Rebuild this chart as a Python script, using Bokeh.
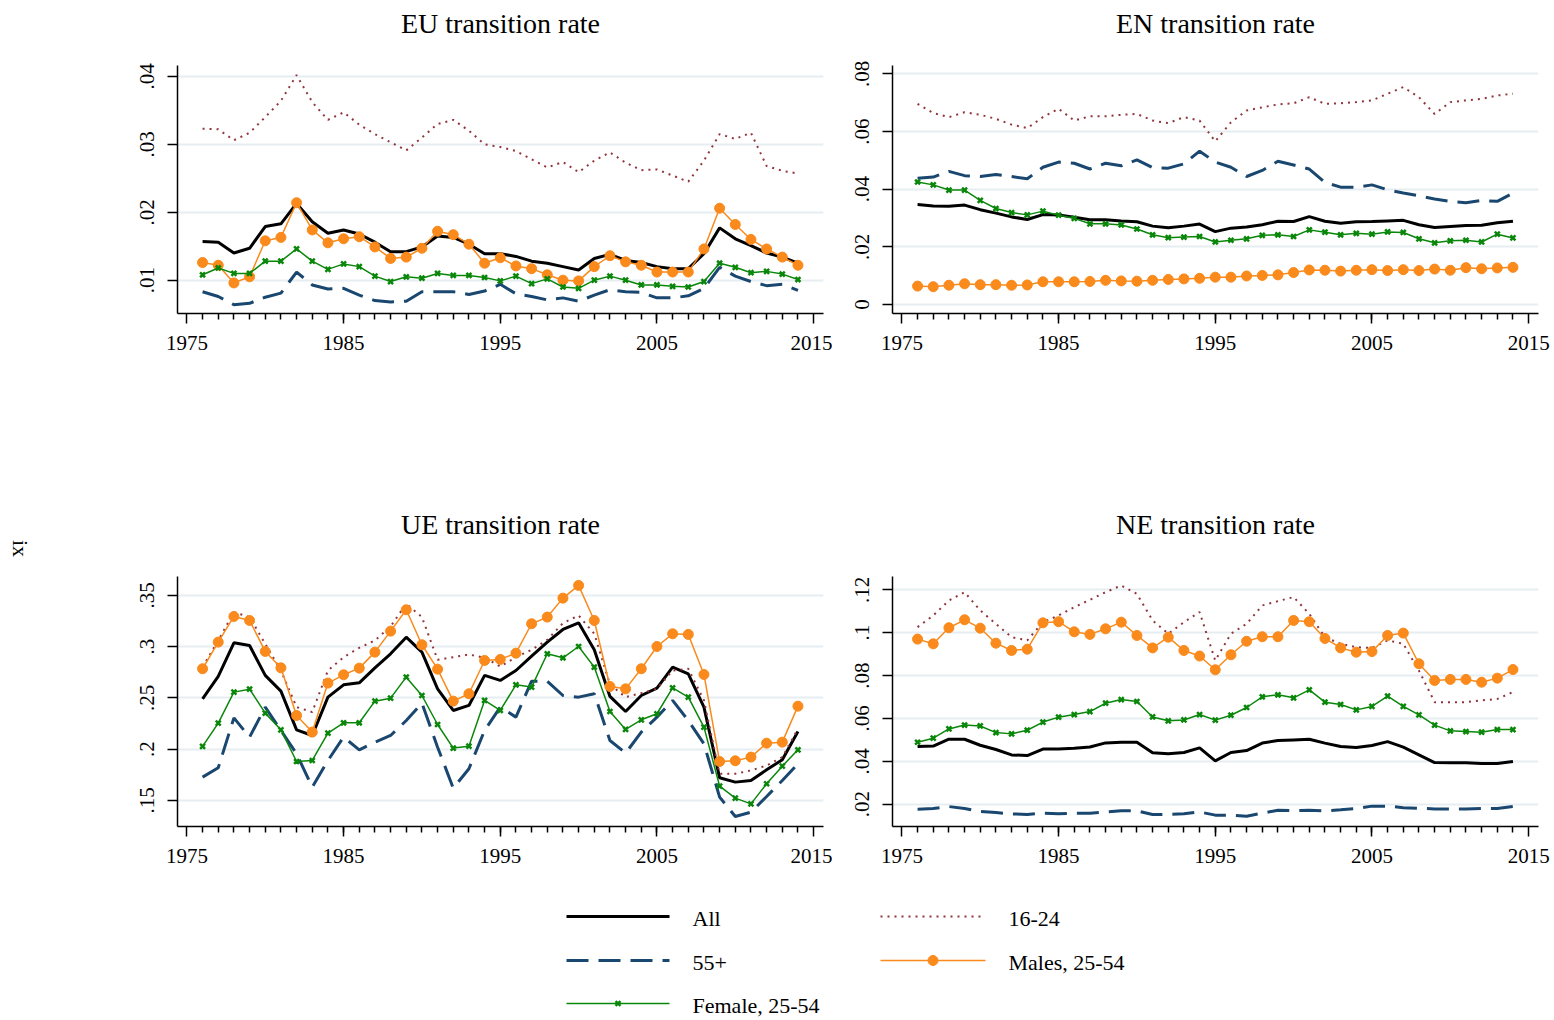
import math
from bokeh.plotting import figure
from bokeh.models import Range1d, FixedTicker, CustomJSTickFormatter, Label
from bokeh.layouts import row, column
from bokeh.core.properties import value
from bokeh.embed import file_html
from bokeh.resources import INLINE

# ---------------- data ----------------
years = [1976, 1977, 1978, 1979, 1980, 1981, 1982, 1983, 1984, 1985,
         1986, 1987, 1988, 1989, 1990, 1991, 1992, 1993, 1994, 1995,
         1996, 1997, 1998, 1999, 2000, 2001, 2002, 2003, 2004, 2005,
         2006, 2007, 2008, 2009, 2010, 2011, 2012, 2013, 2014]
x_ticks = [1975, 1985, 1995, 2005, 2015]

series_names = ["All", "16-24", "55+", "Males, 25-54", "Female, 25-54"]
panel_titles = ["EU transition rate", "EN transition rate", "UE transition rate", "NE transition rate"]
y_title = "ix"

eu_ticks = [0.01, 0.02, 0.03, 0.04]
en_ticks = [0.0, 0.02, 0.04, 0.06, 0.08]
ue_ticks = [0.15, 0.2, 0.25, 0.3, 0.35]
ne_ticks = [0.02, 0.04, 0.06, 0.08, 0.1, 0.12]

eu_all = [0.0157, 0.0156, 0.0140, 0.0147, 0.0179, 0.0183, 0.0213, 0.0186, 0.0169, 0.0174,
          0.0168, 0.0156, 0.0142, 0.0142, 0.0149, 0.0165, 0.0163, 0.0153, 0.0139, 0.0139,
          0.0135, 0.0128, 0.0125, 0.0120, 0.0115, 0.0132, 0.0138, 0.0129, 0.0126, 0.0120,
          0.0117, 0.0117, 0.0139, 0.0177, 0.0161, 0.0151, 0.0140, 0.0134, 0.0125]
eu_youth = [0.0323, 0.0322, 0.0306, 0.0317, 0.0340, 0.0364, 0.0402, 0.0362, 0.0336, 0.0347,
            0.0329, 0.0315, 0.0303, 0.0291, 0.0310, 0.0330, 0.0336, 0.0320, 0.0300, 0.0296,
            0.0290, 0.0278, 0.0266, 0.0274, 0.0259, 0.0276, 0.0288, 0.0273, 0.0262, 0.0263,
            0.0254, 0.0245, 0.0276, 0.0315, 0.0308, 0.0317, 0.0268, 0.0261, 0.0257]
eu_old = [0.0083, 0.0076, 0.0064, 0.0066, 0.0075, 0.0081, 0.0112, 0.0093, 0.0087, 0.0088,
          0.0078, 0.0070, 0.0068, 0.0069, 0.0083, 0.0083, 0.0083, 0.0079, 0.0084, 0.0094,
          0.0080, 0.0076, 0.0071, 0.0074, 0.0069, 0.0078, 0.0086, 0.0083, 0.0082, 0.0074,
          0.0074, 0.0077, 0.0088, 0.0119, 0.0106, 0.0098, 0.0092, 0.0094, 0.0085]
eu_male = [0.0126, 0.0122, 0.0096, 0.0105, 0.0158, 0.0163, 0.0214, 0.0174, 0.0155, 0.0161,
           0.0164, 0.0149, 0.0132, 0.0134, 0.0147, 0.0172, 0.0167, 0.0153, 0.0125, 0.0133,
           0.0121, 0.0117, 0.0108, 0.0100, 0.0099, 0.0120, 0.0136, 0.0127, 0.0122, 0.0112,
           0.0112, 0.0112, 0.0146, 0.0206, 0.0182, 0.0160, 0.0146, 0.0134, 0.0122]
eu_female = [0.0108, 0.0118, 0.0110, 0.0110, 0.0128, 0.0128, 0.0146, 0.0128, 0.0116, 0.0124,
             0.0120, 0.0106, 0.0098, 0.0105, 0.0103, 0.0110, 0.0107, 0.0107, 0.0104, 0.0099,
             0.0106, 0.0095, 0.0102, 0.0090, 0.0088, 0.0100, 0.0106, 0.0100, 0.0093, 0.0093,
             0.0091, 0.0090, 0.0098, 0.0125, 0.0119, 0.0111, 0.0113, 0.0109, 0.0101]

en_all = [0.0347, 0.0342, 0.0341, 0.0345, 0.0329, 0.0317, 0.0304, 0.0295, 0.0312, 0.0311,
          0.0303, 0.0294, 0.0294, 0.0290, 0.0287, 0.0272, 0.0266, 0.0272, 0.0279, 0.0253,
          0.0265, 0.0269, 0.0277, 0.0289, 0.0288, 0.0305, 0.0289, 0.0282, 0.0287, 0.0288,
          0.0290, 0.0292, 0.0277, 0.0267, 0.0271, 0.0274, 0.0275, 0.0284, 0.0289]
en_youth = [0.0696, 0.0664, 0.0650, 0.0667, 0.0658, 0.0644, 0.0624, 0.0612, 0.0650, 0.0679,
            0.0638, 0.0653, 0.0653, 0.0658, 0.0661, 0.0638, 0.0629, 0.0650, 0.0638, 0.0566,
            0.0632, 0.0673, 0.0684, 0.0694, 0.0698, 0.0719, 0.0696, 0.0698, 0.0702, 0.0708,
            0.0731, 0.0754, 0.0719, 0.0661, 0.0702, 0.0708, 0.0713, 0.0725, 0.0731]
en_old = [0.0438, 0.0442, 0.0462, 0.0447, 0.0444, 0.0451, 0.0444, 0.0436, 0.0476, 0.0494,
          0.0490, 0.0470, 0.0490, 0.0481, 0.0502, 0.0475, 0.0473, 0.0488, 0.0532, 0.0494,
          0.0476, 0.0444, 0.0465, 0.0497, 0.0484, 0.0470, 0.0424, 0.0407, 0.0407, 0.0415,
          0.0398, 0.0387, 0.0377, 0.0366, 0.0358, 0.0353, 0.0361, 0.0358, 0.0386]
en_male = [0.0064, 0.0062, 0.0067, 0.0072, 0.0069, 0.0069, 0.0067, 0.0068, 0.0079, 0.0079,
           0.0079, 0.0080, 0.0084, 0.0082, 0.0081, 0.0084, 0.0087, 0.0089, 0.0091, 0.0095,
           0.0095, 0.0099, 0.0101, 0.0103, 0.0111, 0.0120, 0.0119, 0.0116, 0.0119, 0.0121,
           0.0118, 0.0121, 0.0118, 0.0123, 0.0119, 0.0128, 0.0124, 0.0127, 0.0129]
en_female = [0.0425, 0.0415, 0.0397, 0.0397, 0.0361, 0.0333, 0.0319, 0.0311, 0.0324, 0.0310,
             0.0299, 0.0280, 0.0280, 0.0276, 0.0262, 0.0242, 0.0232, 0.0234, 0.0236, 0.0217,
             0.0223, 0.0228, 0.0240, 0.0242, 0.0236, 0.0259, 0.0251, 0.0242, 0.0247, 0.0244,
             0.0252, 0.0250, 0.0228, 0.0214, 0.0221, 0.0223, 0.0217, 0.0244, 0.0231]

ue_all = [0.2492, 0.2710, 0.3038, 0.3012, 0.2720, 0.2567, 0.2189, 0.2134, 0.2508, 0.2628,
          0.2648, 0.2794, 0.2931, 0.3093, 0.2947, 0.2589, 0.2378, 0.2427, 0.2720, 0.2671,
          0.2768, 0.2908, 0.3045, 0.3168, 0.3233, 0.2970, 0.2515, 0.2368, 0.2524, 0.2596,
          0.2801, 0.2736, 0.2411, 0.1721, 0.1679, 0.1695, 0.1799, 0.1897, 0.2173]
ue_youth = [0.2801, 0.3061, 0.3337, 0.3289, 0.3028, 0.2768, 0.2411, 0.2362, 0.2768, 0.2898,
            0.2989, 0.3061, 0.3198, 0.3419, 0.3289, 0.2872, 0.2898, 0.2924, 0.2892, 0.2807,
            0.2898, 0.2970, 0.3067, 0.3230, 0.3305, 0.3126, 0.2632, 0.2508, 0.2547, 0.2589,
            0.2768, 0.2785, 0.2476, 0.1760, 0.1760, 0.1793, 0.1841, 0.1923, 0.2199]
ue_old = [0.1728, 0.1819, 0.2306, 0.2118, 0.2411, 0.2183, 0.1955, 0.1630, 0.1890, 0.2118,
          0.1994, 0.2069, 0.2134, 0.2280, 0.2450, 0.2020, 0.1620, 0.1809, 0.2183, 0.2411,
          0.2313, 0.2664, 0.2664, 0.2524, 0.2508, 0.2541, 0.2085, 0.1962, 0.2167, 0.2313,
          0.2476, 0.2280, 0.2053, 0.1533, 0.1344, 0.1386, 0.1539, 0.1695, 0.1858]
ue_male = [0.2785, 0.3045, 0.3295, 0.3256, 0.2954, 0.2794, 0.2329, 0.2167, 0.2645, 0.2726,
           0.2791, 0.2947, 0.3152, 0.3360, 0.3019, 0.2781, 0.2469, 0.2541, 0.2866, 0.2876,
           0.2937, 0.3224, 0.3289, 0.3474, 0.3598, 0.3256, 0.2612, 0.2589, 0.2785, 0.3002,
           0.3126, 0.3120, 0.2729, 0.1880, 0.1887, 0.1923, 0.2059, 0.2069, 0.2420]
ue_female = [0.2027, 0.2254, 0.2557, 0.2586, 0.2352, 0.2189, 0.1880, 0.1890, 0.2157, 0.2258,
             0.2258, 0.2469, 0.2498, 0.2703, 0.2524, 0.2241, 0.2011, 0.2030, 0.2476, 0.2378,
             0.2628, 0.2606, 0.2931, 0.2892, 0.3002, 0.2801, 0.2368, 0.2193, 0.2287, 0.2346,
             0.2599, 0.2508, 0.2215, 0.1640, 0.1523, 0.1467, 0.1663, 0.1835, 0.1994]

ne_all = [0.0469, 0.0471, 0.0503, 0.0503, 0.0475, 0.0455, 0.0430, 0.0427, 0.0457, 0.0457,
          0.0461, 0.0467, 0.0486, 0.0489, 0.0489, 0.0440, 0.0435, 0.0441, 0.0463, 0.0402,
          0.0441, 0.0450, 0.0485, 0.0497, 0.0500, 0.0503, 0.0485, 0.0469, 0.0464, 0.0474,
          0.0492, 0.0466, 0.0430, 0.0394, 0.0393, 0.0393, 0.0390, 0.0390, 0.0399]
ne_youth = [0.1026, 0.1080, 0.1150, 0.1189, 0.1104, 0.1041, 0.0979, 0.0964, 0.1049, 0.1080,
            0.1119, 0.1153, 0.1189, 0.1220, 0.1181, 0.1057, 0.0995, 0.1049, 0.1096, 0.0870,
            0.0995, 0.1041, 0.1127, 0.1147, 0.1166, 0.1088, 0.0979, 0.0948, 0.0932, 0.0929,
            0.0964, 0.0948, 0.0823, 0.0676, 0.0676, 0.0676, 0.0684, 0.0691, 0.0723]
ne_old = [0.0177, 0.0180, 0.0189, 0.0180, 0.0166, 0.0161, 0.0155, 0.0152, 0.0158, 0.0156,
          0.0158, 0.0158, 0.0164, 0.0169, 0.0169, 0.0152, 0.0152, 0.0155, 0.0164, 0.0149,
          0.0149, 0.0144, 0.0158, 0.0172, 0.0170, 0.0172, 0.0169, 0.0174, 0.0180, 0.0191,
          0.0191, 0.0184, 0.0181, 0.0178, 0.0178, 0.0178, 0.0180, 0.0180, 0.0189]
ne_male = [0.0970, 0.0948, 0.1023, 0.1060, 0.1021, 0.0951, 0.0917, 0.0923, 0.1046, 0.1051,
           0.1004, 0.0992, 0.1018, 0.1049, 0.0987, 0.0929, 0.0979, 0.0917, 0.0891, 0.0827,
           0.0897, 0.0960, 0.0981, 0.0981, 0.1057, 0.1051, 0.0973, 0.0929, 0.0909, 0.0912,
           0.0987, 0.0998, 0.0855, 0.0777, 0.0782, 0.0782, 0.0769, 0.0788, 0.0828]
ne_female = [0.0489, 0.0508, 0.0551, 0.0569, 0.0565, 0.0534, 0.0528, 0.0545, 0.0583, 0.0606,
             0.0618, 0.0632, 0.0671, 0.0688, 0.0679, 0.0607, 0.0589, 0.0593, 0.0618, 0.0592,
             0.0615, 0.0651, 0.0701, 0.0710, 0.0696, 0.0733, 0.0676, 0.0665, 0.0640, 0.0656,
             0.0704, 0.0656, 0.0617, 0.0569, 0.0542, 0.0539, 0.0536, 0.0548, 0.0548]

# ---------------- styling / layout constants ----------------
FONT = "Liberation Serif"
C_ALL = "#000000"
C_YOUTH = "#90353b"
C_OLD = "#1a476f"
C_MALE = "#f98a1b"
C_FEMALE = "#0a870a"
C_GRID = "#e6eef1"
DOT = "2 5"

X_RANGE = (1974.4, 2015.63)
PAGE_W = 1554
LAB_W = 50
FRAME_W = 646
LEFT_W, RIGHT_W = 782, 722
L_BL, L_BR = 127, 9
R_BL, R_BR = 60, 16
TOP_TITLE_H = 45
ROW1_H = 330      # border top 20, frame 248, border bottom 62
MID_TITLE_H = 175
ROW2_H = 326      # border top 26, frame 250, border bottom 50
LEG_H = 144

FMT = CustomJSTickFormatter(code="""
let s = String(Number(tick.toFixed(4)));
if (s.startsWith("0.")) { s = s.substring(1); }
return s;
""")


def make_panel(ticks, y_range, data, width, height, bl, br, bt, bb):
    p = figure(width=width, height=height, output_backend="svg", toolbar_location=None,
               title=None,
               x_range=Range1d(*X_RANGE), y_range=Range1d(*y_range),
               min_border_left=bl, min_border_right=br,
               min_border_top=bt, min_border_bottom=bb)
    p.outline_line_color = None
    p.background_fill_color = "white"
    p.border_fill_color = "white"

    p.xaxis.ticker = FixedTicker(ticks=x_ticks, minor_ticks=years)
    p.yaxis.ticker = FixedTicker(ticks=ticks)
    p.yaxis.formatter = FMT
    p.yaxis.major_label_orientation = "vertical"
    for ax in (p.xaxis[0], p.yaxis[0]):
        ax.axis_line_color = "black"
        ax.axis_line_width = 1.5
        ax.major_tick_line_color = "black"
        ax.major_tick_line_width = 1.5
        ax.minor_tick_line_color = "black"
        ax.minor_tick_line_width = 1.5
        ax.major_tick_in = 0
        ax.major_tick_out = 10
        ax.minor_tick_in = 0
        ax.major_label_text_font = FONT
        ax.major_label_text_font_size = "21px"
        ax.major_label_text_color = "black"
    p.xaxis.minor_tick_out = 6
    p.yaxis.minor_tick_out = 0
    p.xaxis.major_label_standoff = 12
    p.yaxis.major_label_standoff = 13

    p.xgrid.visible = False
    p.ygrid.grid_line_color = C_GRID
    p.ygrid.grid_line_width = 2

    s_all, s_youth, s_old, s_male, s_female = data
    p.line(years, s_all, line_color=C_ALL, line_width=3)
    p.line(years, s_youth, line_color=C_YOUTH, line_width=2, line_dash=DOT)
    p.line(years, s_old, line_color=C_OLD, line_width=3, line_dash="22 10")
    p.line(years, s_male, line_color=C_MALE, line_width=1.5)
    p.scatter(years, s_male, marker="circle", size=10, fill_color=C_MALE, line_color=C_MALE)
    p.line(years, s_female, line_color=C_FEMALE, line_width=1.5)
    p.scatter(years, s_female, marker="x", size=7, line_color=C_FEMALE, line_width=2.5)
    return p


p1 = make_panel(eu_ticks, (0.0051, 0.0416), (eu_all, eu_youth, eu_old, eu_male, eu_female),
                LEFT_W, ROW1_H, L_BL, L_BR, 20, 62)
p2 = make_panel(en_ticks, (-0.0031, 0.0829), (en_all, en_youth, en_old, en_male, en_female),
                RIGHT_W, ROW1_H, R_BL, R_BR, 20, 62)
p3 = make_panel(ue_ticks, (0.1246, 0.3685), (ue_all, ue_youth, ue_old, ue_male, ue_female),
                LEFT_W, ROW2_H, L_BL, L_BR, 26, 50)
p4 = make_panel(ne_ticks, (0.0096, 0.1262), (ne_all, ne_youth, ne_old, ne_male, ne_female),
                RIGHT_W, ROW2_H, R_BL, R_BR, 26, 50)

# panel-frame centres on the page
cx_left = LAB_W + L_BL + FRAME_W / 2
cx_right = LAB_W + LEFT_W + R_BL + FRAME_W / 2


def strip(width, height, x0, y0):
    f = figure(width=width, height=height, output_backend="svg", toolbar_location=None,
               x_range=Range1d(x0, x0 + width), y_range=Range1d(y0 + height, y0),
               x_axis_location=None, y_axis_location=None, min_border=0)
    f.grid.visible = False
    f.outline_line_color = None
    return f


# titles of the top row
t_top = strip(PAGE_W, TOP_TITLE_H, 0, 0)
t_top.text(x=[cx_left, cx_right], y=[23, 23], text=panel_titles[:2],
           text_font=value(FONT), text_font_size="28px", text_color="black",
           text_align="center", text_baseline="middle")

# titles of the bottom row
y_mid0 = TOP_TITLE_H + ROW1_H
t_mid = strip(PAGE_W - LAB_W, MID_TITLE_H, LAB_W, y_mid0)
t_mid.text(x=[cx_left, cx_right], y=[524, 524], text=panel_titles[2:],
           text_font=value(FONT), text_font_size="28px", text_color="black",
           text_align="center", text_baseline="middle")

# left title strip
body_h = ROW1_H + MID_TITLE_H + ROW2_H
lab = strip(LAB_W, body_h, 0, TOP_TITLE_H)
lab.add_layout(Label(x=20, y=548, text=y_title, angle=-math.pi / 2,
                     text_align="center", text_baseline="middle",
                     text_font=FONT, text_font_size="22px", text_color="black"))

# legend strip (page-pixel coordinates)
leg_y0 = TOP_TITLE_H + body_h
leg = strip(PAGE_W, LEG_H, 0, leg_y0)
c1 = (566, 669)
c2 = (880, 985)
r1, r2, r3 = 916, 960, 1003
leg.line(list(c1), [r1, r1], line_color=C_ALL, line_width=3)
leg.line(list(c2), [r1, r1], line_color=C_YOUTH, line_width=2, line_dash=DOT)
leg.line(list(c1), [r2, r2], line_color=C_OLD, line_width=3, line_dash="22 10")
leg.line(list(c2), [r2, r2], line_color=C_MALE, line_width=1.5)
leg.scatter([(c2[0] + c2[1]) / 2], [r2], marker="circle", size=10, fill_color=C_MALE, line_color=C_MALE)
leg.line(list(c1), [r3, r3], line_color=C_FEMALE, line_width=1.5)
leg.scatter([(c1[0] + c1[1]) / 2], [r3], marker="x", size=7, line_color=C_FEMALE, line_width=2.5)
leg.text(x=[692, 1008, 692, 1008, 692], y=[r1 + 2, r1 + 2, r2 + 2, r2 + 2, r3 + 2],
         text=series_names,
         text_font=value(FONT), text_font_size="22px", text_color="black",
         text_align="left", text_baseline="middle")

body = row(lab, column(row(p1, p2), t_mid, row(p3, p4)))
layout = column(t_top, body, leg)

open("out.html", "w").write(file_html(layout, INLINE))
